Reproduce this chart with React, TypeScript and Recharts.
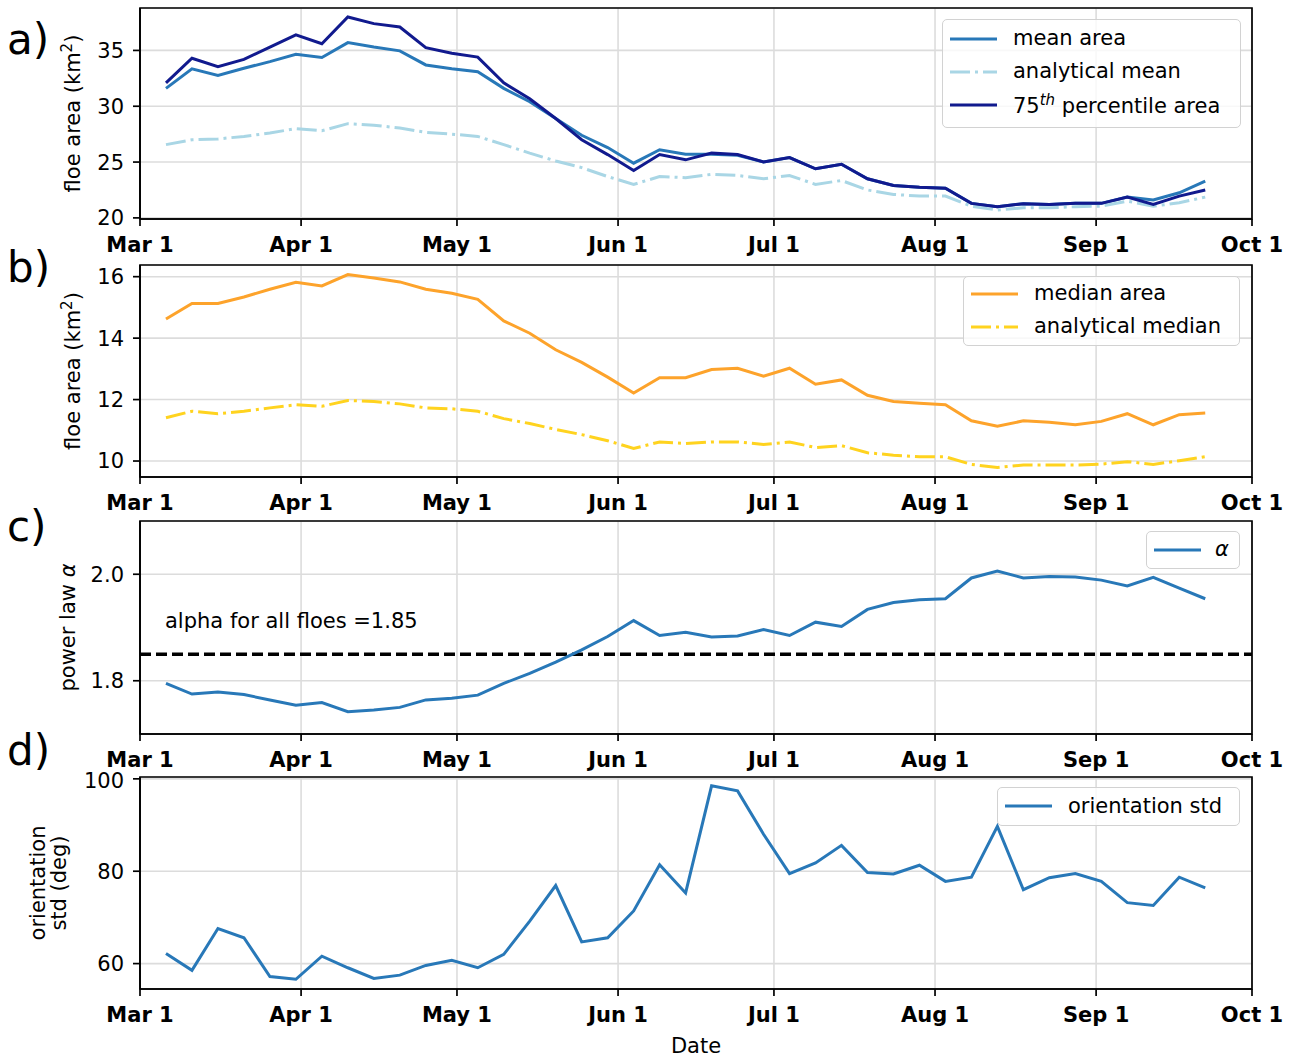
import React from "react";
import {
  LineChart,
  Line,
  XAxis,
  YAxis,
  CartesianGrid,
  ReferenceLine,
  ReferenceArea,
  Legend,
  Label,
} from "recharts";

const FONT = "'DejaVu Sans', sans-serif";

// sample dates as days after Mar 1
const days = [
  5, 10, 15, 20, 25, 30, 35, 40, 45, 50, 55, 60, 65, 70, 75, 80, 85, 90, 95,
  100, 105, 110, 115, 120, 125, 130, 135, 140, 145, 150, 155, 160, 165, 170,
  175, 180, 185, 190, 195, 200, 205,
];

const monthTicks = [0, 31, 61, 92, 122, 153, 184, 214];
const monthLabels = ["Mar 1", "Apr 1", "May 1", "Jun 1", "Jul 1", "Aug 1", "Sep 1", "Oct 1"];

// a) floe area (km^2)
const meanArea = [
  31.6, 33.35, 32.75, 33.4, 34.0, 34.66, 34.36, 35.7, 35.3, 34.96, 33.7, 33.35,
  33.1, 31.6, 30.4, 28.9, 27.4, 26.3, 24.9, 26.1, 25.7, 25.7, 25.6, 25.0, 25.4,
  24.4, 24.8, 23.5, 22.9, 22.75, 22.66, 21.3, 21.0, 21.27, 21.2, 21.3, 21.3,
  21.86, 21.6, 22.25, 23.3,
];
const analyticalMean = [
  26.56, 27.0, 27.07, 27.3, 27.6, 28.0, 27.8, 28.44, 28.3, 28.05, 27.66, 27.5,
  27.3, 26.56, 25.8, 25.1, 24.5, 23.7, 23.0, 23.7, 23.6, 23.9, 23.8, 23.5, 23.8,
  23.0, 23.35, 22.5, 22.1, 21.95, 21.95, 21.05, 20.7, 20.9, 20.9, 21.0, 21.05,
  21.5, 21.05, 21.36, 21.86,
];
const p75Area = [
  32.1, 34.3, 33.55, 34.2, 35.3, 36.4, 35.6, 38.0, 37.4, 37.1, 35.25, 34.75,
  34.4, 32.1, 30.67, 28.9, 27.0, 25.67, 24.24, 25.67, 25.2, 25.8, 25.67, 25.0,
  25.4, 24.4, 24.8, 23.5, 22.9, 22.75, 22.66, 21.3, 21.0, 21.27, 21.2, 21.3,
  21.3, 21.86, 21.2, 21.95, 22.5,
];

// b) median floe area (km^2)
const medianArea = [
  14.62, 15.13, 15.13, 15.34, 15.59, 15.82, 15.7, 16.07, 15.96, 15.83, 15.59,
  15.46, 15.26, 14.56, 14.16, 13.62, 13.21, 12.73, 12.21, 12.71, 12.71, 12.98,
  13.02, 12.76, 13.02, 12.5, 12.64, 12.14, 11.94, 11.88, 11.83, 11.31, 11.13,
  11.31, 11.26, 11.18, 11.29, 11.54, 11.18, 11.51, 11.56,
];
const analyticalMedian = [
  11.41, 11.62, 11.54, 11.62, 11.73, 11.83, 11.78, 11.97, 11.94, 11.86, 11.73,
  11.7, 11.62, 11.38, 11.22, 11.03, 10.86, 10.66, 10.41, 10.62, 10.57, 10.62,
  10.62, 10.54, 10.62, 10.44, 10.5, 10.27, 10.19, 10.14, 10.14, 9.89, 9.79,
  9.87, 9.87, 9.87, 9.9, 9.98, 9.89, 10.01, 10.14,
];

// c) power law exponent
const alpha = [
  1.795, 1.775, 1.779, 1.774, 1.764, 1.754, 1.759, 1.742, 1.745, 1.75, 1.764,
  1.767, 1.773, 1.795, 1.814, 1.835, 1.858, 1.883, 1.913, 1.885, 1.891, 1.882,
  1.884, 1.896, 1.885, 1.91, 1.902, 1.934, 1.947, 1.952, 1.954, 1.993, 2.006,
  1.993, 1.996, 1.995, 1.989, 1.978, 1.994, 1.974, 1.954,
];
const alphaAll = 1.85;

// d) orientation std (deg)
const orientationStd = [
  62.2, 58.55, 67.6, 65.6, 57.2, 56.6, 61.6, 59.1, 56.8, 57.5, 59.6, 60.7, 59.1,
  62.0, 69.2, 76.9, 64.7, 65.6, 71.4, 81.4, 75.3, 98.5, 97.4, 88.0, 79.5, 81.8,
  85.6, 79.7, 79.4, 81.3, 77.8, 78.7, 89.7, 76.0, 78.6, 79.5, 77.8, 73.2, 72.6,
  78.7, 76.4,
];

const rows = days.map((day, i) => ({
  day,
  meanArea: meanArea[i],
  analyticalMean: analyticalMean[i],
  p75Area: p75Area[i],
  medianArea: medianArea[i],
  analyticalMedian: analyticalMedian[i],
  alpha: alpha[i],
  orientationStd: orientationStd[i],
}));

const BLUE = "#2878b8";
const NAVY = "#111a8e";
const LIGHTBLUE = "#a9d6e5";
const ORANGE = "#fda32b";
const GOLD = "#ffd31f";
const DASHDOT = "20 5 3 5";
const GRID = "#dcdcdc";

const W = 1298;
const MARGIN_RIGHT = 46;
const YAXIS_W = 140;

const DateTick = (props: any) => {
  const { x, y, payload } = props;
  return (
    <text
      x={x}
      y={y + 24}
      textAnchor="middle"
      fontFamily={FONT}
      fontSize={21}
      fontWeight="bold"
      fill="#000"
    >
      {monthLabels[monthTicks.indexOf(payload.value)]}
    </text>
  );
};

const yLabelContent =
  (lines: React.ReactNode[], xs: number[]) => (props: any) => {
    const vb = props.viewBox;
    const cy = vb.y + vb.height / 2;
    return (
      <g>
        {lines.map((ln, i) => (
          <text
            key={i}
            x={xs[i]}
            y={cy}
            transform={`rotate(-90, ${xs[i]}, ${cy})`}
            textAnchor="middle"
            fontFamily={FONT}
            fontSize={21}
            fill="#000"
          >
            {ln}
          </text>
        ))}
      </g>
    );
  };

const kmLabel = (
  <>
    floe area (km
    <tspan dy={-8} fontSize={15}>
      2
    </tspan>
    <tspan dy={8}>)</tspan>
  </>
);

const legendLabels: Record<string, React.ReactNode> = {
  meanArea: "mean area",
  analyticalMean: "analytical mean",
  p75Area: (
    <>
      75<sup style={{ fontSize: 15, fontStyle: "italic" }}>th</sup> percentile area
    </>
  ),
  medianArea: "median area",
  analyticalMedian: "analytical median",
  alpha: <i>α</i>,
  orientationStd: "orientation std",
};

const legendContent =
  (keys: string[], width: number, height: number, rowH: number, padTop: number, gap: number) =>
  (props: any) => {
    const payload: any[] = props.payload || [];
    const ordered = keys
      .map((k) => payload.find((p) => p.dataKey === k))
      .filter(Boolean);
    return (
      <div
        style={{
          boxSizing: "border-box",
          width,
          height,
          paddingTop: padTop,
          border: "1.5px solid #d2d2d2",
          borderRadius: 5,
          background: "rgba(255,255,255,0.8)",
          fontFamily: FONT,
          fontSize: 21,
          color: "#000",
        }}
      >
        {ordered.map((entry: any) => (
          <div
            key={entry.dataKey}
            style={{ display: "flex", alignItems: "center", height: rowH, whiteSpace: "nowrap" }}
          >
            <svg width={47} height={8} style={{ marginLeft: 7, marginRight: gap, flex: "none" }}>
              <line
                x1={0}
                y1={4}
                x2={47}
                y2={4}
                stroke={entry.color}
                strokeWidth={3}
                strokeDasharray={entry.payload?.strokeDasharray}
              />
            </svg>
            <span style={{ lineHeight: 1 }}>{legendLabels[entry.dataKey]}</span>
          </div>
        ))}
      </div>
    );
  };

const dateAxis = (height: number, withTitle = false) => (
  <XAxis
    dataKey="day"
    type="number"
    domain={[0, 214]}
    ticks={monthTicks}
    interval={0}
    height={height}
    tick={<DateTick />}
    tickSize={7}
    tickLine={{ stroke: "#000", strokeWidth: 1.7 }}
    axisLine={{ stroke: "#000", strokeWidth: 1.7 }}
  >
    {withTitle && (
      <Label
        content={(props: any) => {
          const vb = props.viewBox;
          return (
            <text
              x={vb.x + vb.width / 2}
              y={vb.y + 64}
              textAnchor="middle"
              fontFamily={FONT}
              fontSize={21}
              fill="#000"
            >
              Date
            </text>
          );
        }}
      />
    )}
  </XAxis>
);

const valueAxis = (
  domain: [number, number],
  ticks: number[],
  label: (props: any) => React.ReactNode,
  fmt?: (v: number) => string
) => (
  <YAxis
    type="number"
    domain={domain}
    ticks={ticks}
    width={YAXIS_W}
    allowDataOverflow
    tickFormatter={fmt}
    tickSize={7}
    tickMargin={9}
    tick={{ fontSize: 21, fill: "#000", fontFamily: FONT }}
    tickLine={{ stroke: "#000", strokeWidth: 1.7 }}
    axisLine={{ stroke: "#000", strokeWidth: 1.7 }}
  >
    <Label content={label} />
  </YAxis>
);

const frame = (domain: [number, number]) => (
  <ReferenceArea
    x1={0}
    x2={214}
    y1={domain[0]}
    y2={domain[1]}
    fill="none"
    stroke="#000"
    strokeWidth={1.7}
    ifOverflow="visible"
  />
);

const AlphaNote = (props: any) => {
  const vb = props.viewBox;
  return (
    <text x={vb.x + 25} y={vb.y - 26} fontFamily={FONT} fontSize={21} fill="#000">
      alpha for all floes ={alphaAll}
    </text>
  );
};

const domA: [number, number] = [19.9, 38.8];
const domB: [number, number] = [9.48, 16.38];
const domC: [number, number] = [1.7, 2.1];
const domD: [number, number] = [54.5, 100.4];

const letters = [
  { t: "a)", y: 54 },
  { t: "b)", y: 282 },
  { t: "c)", y: 541 },
  { t: "d)", y: 765 },
];

export default function App() {
  return (
    <div
      style={{
        position: "absolute",
        left: 0,
        top: 0,
        width: W,
        height: 1057,
        background: "#fff",
        fontFamily: FONT,
      }}
    >
      <div style={{ position: "absolute", left: 0, top: 0 }}>
        <LineChart width={W} height={270} data={rows} margin={{ top: 8, right: MARGIN_RIGHT, left: 0, bottom: 11 }}>
          <CartesianGrid stroke={GRID} strokeWidth={1.6} />
          {dateAxis(40)}
          {valueAxis(domA, [20, 25, 30, 35], yLabelContent([kmLabel], [79.5]))}
          <Legend
            layout="horizontal"
            verticalAlign="middle"
            align="center"
            wrapperStyle={{ top: 19, left: 942, width: 299 }}
            content={legendContent(["meanArea", "analyticalMean", "p75Area"], 299, 109, 33, 2, 16)}
          />
          <Line dataKey="meanArea" name="mean area" stroke={BLUE} strokeWidth={3} dot={false} isAnimationActive={false} />
          <Line dataKey="analyticalMean" name="analytical mean" stroke={LIGHTBLUE} strokeWidth={3} strokeDasharray={DASHDOT} dot={false} isAnimationActive={false} />
          <Line dataKey="p75Area" name="75th percentile area" stroke={NAVY} strokeWidth={3} dot={false} isAnimationActive={false} />
          {frame(domA)}
        </LineChart>
      </div>

      <div style={{ position: "absolute", left: 0, top: 256 }}>
        <LineChart width={W} height={270} data={rows} margin={{ top: 9, right: MARGIN_RIGHT, left: 0, bottom: 9 }}>
          <CartesianGrid stroke={GRID} strokeWidth={1.6} />
          {dateAxis(40)}
          {valueAxis(domB, [10, 12, 14, 16], yLabelContent([kmLabel], [79.5]))}
          <Legend
            layout="horizontal"
            verticalAlign="middle"
            align="center"
            wrapperStyle={{ top: 20, left: 963, width: 277 }}
            content={legendContent(["medianArea", "analyticalMedian"], 277, 70, 33, 0, 16)}
          />
          <Line dataKey="medianArea" name="median area" stroke={ORANGE} strokeWidth={3} dot={false} isAnimationActive={false} />
          <Line dataKey="analyticalMedian" name="analytical median" stroke={GOLD} strokeWidth={3} strokeDasharray={DASHDOT} dot={false} isAnimationActive={false} />
          {frame(domB)}
        </LineChart>
      </div>

      <div style={{ position: "absolute", left: 0, top: 512 }}>
        <LineChart width={W} height={270} data={rows} margin={{ top: 9, right: MARGIN_RIGHT, left: 0, bottom: 8 }}>
          <CartesianGrid stroke={GRID} strokeWidth={1.6} />
          {dateAxis(40)}
          {valueAxis(
            domC,
            [1.8, 2.0],
            yLabelContent(
              [
                <>
                  power law <tspan fontStyle="italic">α</tspan>
                </>,
              ],
              [75]
            ),
            (v) => v.toFixed(1)
          )}
          <Legend
            layout="horizontal"
            verticalAlign="middle"
            align="center"
            wrapperStyle={{ top: 19, left: 1146, width: 94 }}
            content={legendContent(["alpha"], 94, 38, 35, 0, 14)}
          />
          <ReferenceLine y={alphaAll} stroke="#000" strokeWidth={3.5} strokeDasharray="11 5" label={<AlphaNote />} />
          <Line dataKey="alpha" name="α" stroke={BLUE} strokeWidth={3} dot={false} isAnimationActive={false} />
          {frame(domC)}
        </LineChart>
      </div>

      <div style={{ position: "absolute", left: 0, top: 768 }}>
        <LineChart width={W} height={289} data={rows} margin={{ top: 9, right: MARGIN_RIGHT, left: 0, bottom: 0 }}>
          <CartesianGrid stroke={GRID} strokeWidth={1.6} />
          {dateAxis(68, true)}
          {valueAxis(domD, [60, 80, 100], yLabelContent(["orientation", "std (deg)"], [45, 66]))}
          <Legend
            layout="horizontal"
            verticalAlign="middle"
            align="center"
            wrapperStyle={{ top: 19, left: 997, width: 243 }}
            content={legendContent(["orientationStd"], 243, 39, 36, 0, 16)}
          />
          <Line dataKey="orientationStd" name="orientation std" stroke={BLUE} strokeWidth={3} dot={false} isAnimationActive={false} />
          {frame(domD)}
        </LineChart>
      </div>

      <svg
        width={W}
        height={1057}
        style={{ position: "absolute", left: 0, top: 0, pointerEvents: "none" }}
      >
        {letters.map((l) => (
          <text key={l.t} x={7} y={l.y} fontFamily={FONT} fontSize={42} fill="#000">
            {l.t}
          </text>
        ))}
      </svg>
    </div>
  );
}
